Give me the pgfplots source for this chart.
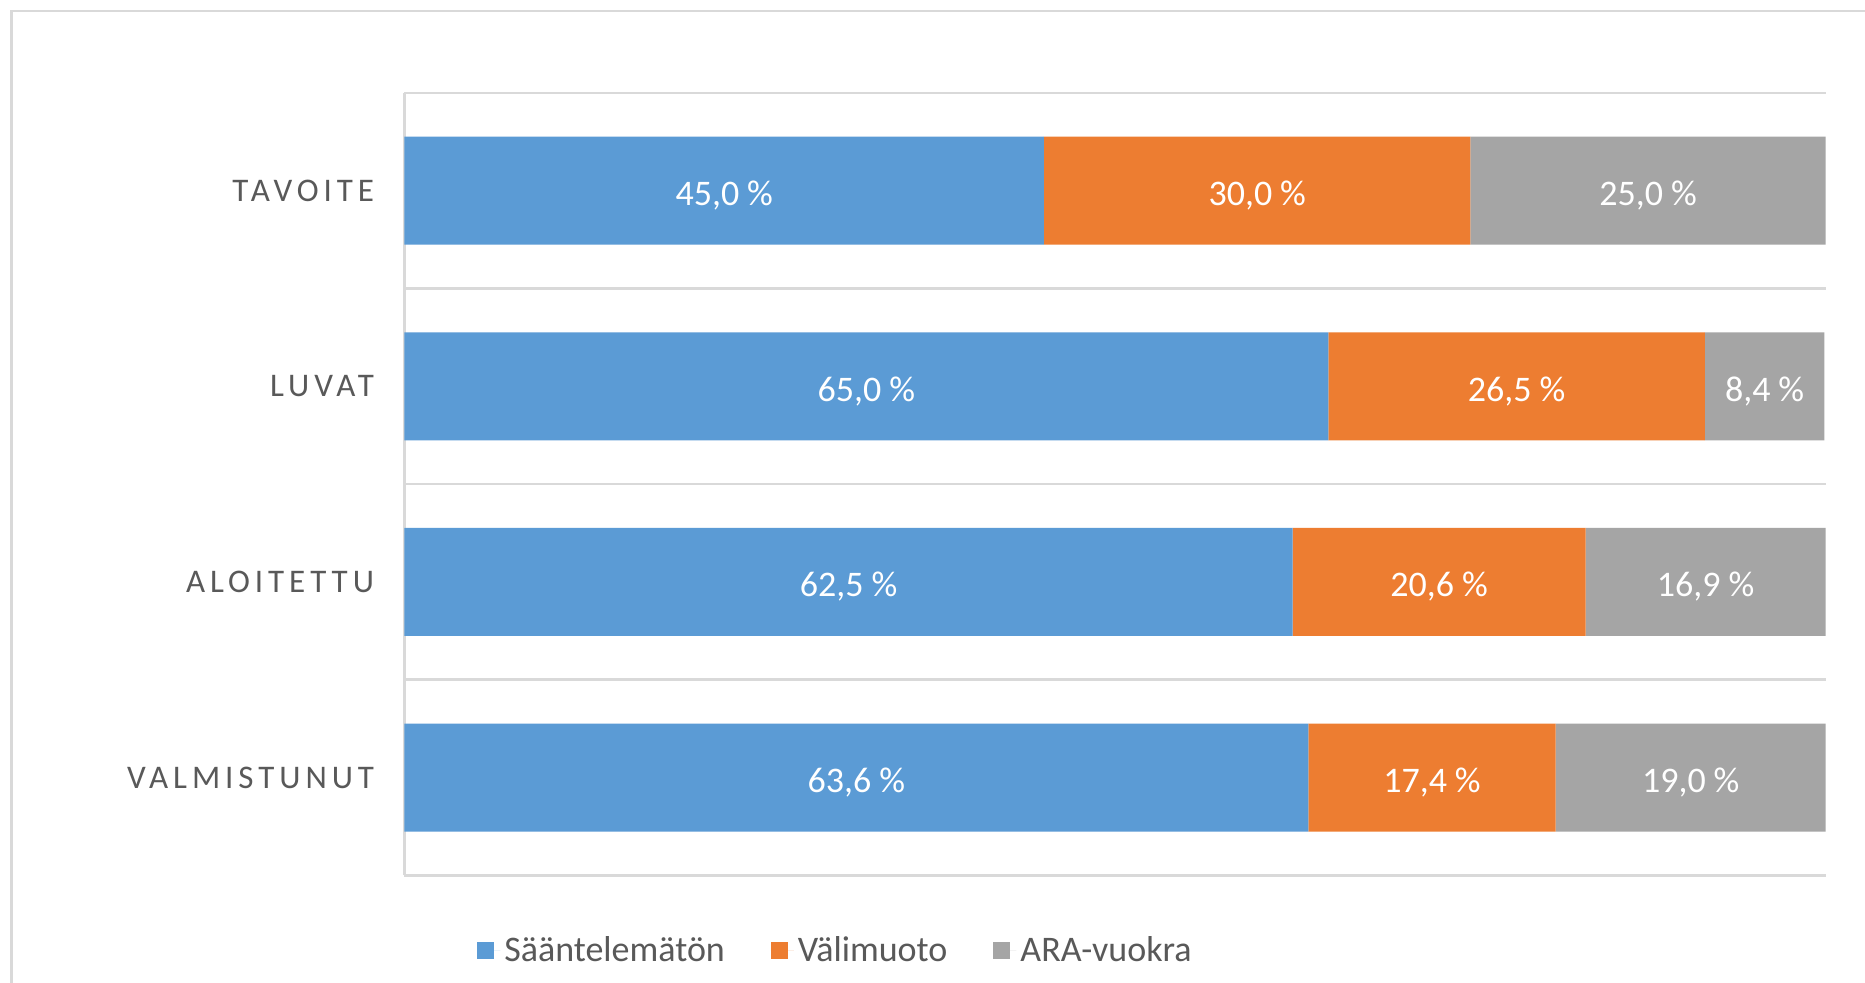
\documentclass[border=0pt]{standalone}
\usepackage{fontspec}
\setmainfont{Carlito}
\newfontfamily\catfont[LetterSpace=15]{Carlito}
\usepackage{pgfplots}
\usepackage{pgfplotstable}
\pgfplotsset{compat=1.18}
\definecolor{cblue}{HTML}{5B9BD5}
\definecolor{corange}{HTML}{ED7D31}
\definecolor{cgray}{HTML}{A5A5A5}
\definecolor{gridc}{HTML}{D9D9D9}
\definecolor{txt}{HTML}{595959}

\pgfplotstableread{
y s v a
0 63.6 17.4 19.0
1 62.5 20.6 16.9
2 65.0 26.5 8.4
3 45.0 30.0 25.0
}\data

\pgfplotstableread{
x y v
31.8 0 63.6
72.3 0 17.4
90.5 0 19.0
31.25 1 62.5
72.8 1 20.6
91.55 1 16.9
32.5 2 65.0
78.25 2 26.5
95.7 2 8.4
22.5 3 45.0
60.0 3 30.0
87.5 3 25.0
}\labels

\begin{document}
\begin{tikzpicture}[x=1pt,y=1pt]
\useasboundingbox (0,0) rectangle (932.5,491);
\fill[white] (0,0) rectangle (932.5,491);
\draw[gridc, line width=1.3pt] (5.75,-5) -- (5.75,485.5) -- (940,485.5);
\begin{axis}[
  at={(202.2pt,53.3pt)}, anchor=south west,
  scale only axis, width=710.65pt, height=391.3pt,
  xbar stacked, bar width=54pt,
  xmin=0, xmax=100, ymin=-0.5, ymax=3.5,
  axis lines*=left,
  axis line style={-, gridc, line width=1.3pt},
  xtick=\empty,
  ytick={0,1,2,3},
  yticklabels={VALMISTUNUT,ALOITETTU,LUVAT,TAVOITE},
  minor ytick={-0.5,0.5,1.5,2.5,3.5},
  yminorgrids,
  minor grid style={gridc, line width=1.3pt},
  major tick length=0pt, minor tick length=0pt,
  yticklabel style={font=\catfont\fontsize{16.5}{18}\selectfont, text=txt, anchor=east, inner sep=0pt, xshift=-15pt},
  legend style={at={(0.304,-0.0955)}, anchor=center, draw=none, fill=none,
    legend columns=-1, font=\fontsize{18}{20}\selectfont, text=txt, inner sep=0pt,
    /tikz/every even column/.append style={column sep=21pt}},
  legend image code/.code={\fill[#1] (0pt,-4.25pt) rectangle (8.5pt,4.25pt); \path (0pt,0pt) -- (11.5pt,0pt);},
]
\addplot[fill=cblue, draw=none] table[x=s, y=y]{\data};
\addplot[fill=corange, draw=none] table[x=v, y=y]{\data};
\addplot[fill=cgray, draw=none] table[x=a, y=y]{\data};
\legend{Sääntelemätön, Välimuoto, ARA-vuokra}
\end{axis}
\begin{axis}[
  at={(202.2pt,53.3pt)}, anchor=south west,
  scale only axis, width=710.65pt, height=391.3pt,
  xmin=0, xmax=100, ymin=-0.5, ymax=3.5, hide axis,
  point meta=explicit,
  nodes near coords={\pgfmathprintnumber[fixed,fixed zerofill,precision=1,use comma,assume math mode=true]{\pgfplotspointmeta}\hspace{0.22em}\%},
  every node near coord/.append style={anchor=center, yshift=-2.4pt, text=white, font=\fontsize{18}{21}\selectfont},
]
\addplot[draw=none] table[x=x, y=y, meta=v]{\labels};
\end{axis}
\end{tikzpicture}
\end{document}
